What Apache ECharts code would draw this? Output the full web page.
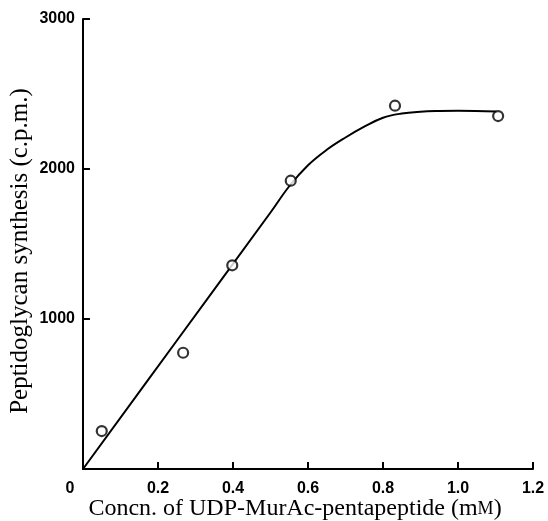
<!DOCTYPE html>
<html>
<head>
<meta charset="utf-8">
<script src="https://cdn.jsdelivr.net/npm/echarts@6/dist/echarts.min.js"></script>
<style>
  html, body { margin: 0; padding: 0; background: #fff; }
  #chart { width: 548px; height: 521px; }
</style>
</head>
<body>
<div id="chart"></div>
<script>
// measured points (concentration in mM, c.p.m.)
var pointX = [0.05, 0.267, 0.398, 0.554, 0.832, 1.107];
var pointY = [253, 775, 1358, 1922, 2422, 2353];

// hand-drawn fitted curve
var curveX = [0, 0.25, 0.5, 0.55, 0.6, 0.65, 0.7, 0.75, 0.8, 0.85, 0.9, 0.95, 1.0, 1.103];
var curveY = [0, 855, 1710, 1885, 2025, 2128, 2210, 2282, 2342, 2370, 2382, 2387, 2389, 2383];

var xTicks = [0, 0.2, 0.4, 0.6, 0.8, 1.0, 1.2];
var yTicks = [0, 1000, 2000, 3000];

function pairs(xs, ys) {
    return xs.map(function (x, i) { return [x, ys[i]]; });
}

var chart = echarts.init(document.getElementById("chart"));

var tickFont = {
    color: "#000",
    fontFamily: "Liberation Sans",
    fontWeight: "bold",
    fontSize: 16
};

// ticks point into the plot (negative length on an outside tick)
var inTick = { show: true, inside: false, length: -7, lineStyle: { color: "#000", width: 2 } };

var option = {
    animation: false,
    grid: { left: 83, right: 15, top: 19, bottom: 52, containLabel: false, outerBoundsMode: "none" },
    xAxis: {
        type: "value",
        min: xTicks[0],
        max: xTicks[xTicks.length - 1],
        interval: 0.2,
        name: "Concn. of UDP-MurAc-pentapeptide (m{sc|M})",
        nameLocation: "middle",
        nameGap: 28,
        nameMoveOverlap: false,
        nameTextStyle: {
            color: "#000",
            fontFamily: "Liberation Serif",
            fontSize: 24,
            padding: [0, 26, 0, 0],
            rich: { sc: { fontFamily: "Liberation Serif", fontSize: 18, color: "#000" } }
        },
        axisLine: { show: true, onZero: false, lineStyle: { color: "#000", width: 2 } },
        axisTick: inTick,
        axisLabel: Object.assign({
            margin: 12,
            formatter: function (v) {
                if (v === 0) return "{o|0}";
                return v.toFixed(1);
            },
            rich: { o: { padding: [0, 26, 0, 0], fontFamily: "Liberation Sans", fontWeight: "bold", fontSize: 16, color: "#000" } }
        }, tickFont),
        splitLine: { show: false }
    },
    yAxis: {
        type: "value",
        min: yTicks[0],
        max: yTicks[yTicks.length - 1],
        interval: 1000,
        name: "Peptidoglycan synthesis (c.p.m.)",
        nameLocation: "middle",
        nameGap: 50,
        nameMoveOverlap: false,
        nameTextStyle: {
            color: "#000",
            fontFamily: "Liberation Serif",
            fontSize: 25,
            padding: [0, 14, 0, 0]
        },
        axisLine: { show: true, onZero: false, lineStyle: { color: "#000", width: 2 } },
        axisTick: inTick,
        axisLabel: Object.assign({
            margin: 8,
            showMinLabel: false,
            formatter: function (v) { return String(v); }
        }, tickFont),
        splitLine: { show: false }
    },
    series: [
        {
            type: "line",
            data: pairs(curveX, curveY),
            smooth: 0.4,
            showSymbol: false,
            lineStyle: { color: "#000", width: 2 },
            z: 2
        },
        {
            type: "scatter",
            data: pairs(pointX, pointY),
            symbol: "circle",
            symbolSize: 10,
            itemStyle: { color: "#fff", borderColor: "#000", borderWidth: 2.2 },
            z: 3
        }
    ]
};
chart.setOption(option);
</script>
</body>
</html>
